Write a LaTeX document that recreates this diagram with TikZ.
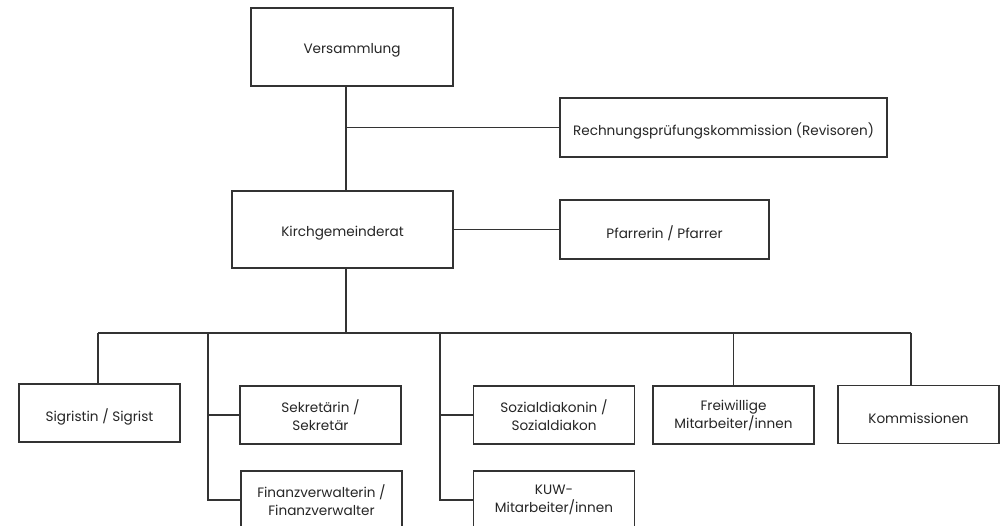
\documentclass[tikz,border=0pt]{standalone}
\usepackage{fontspec}
\setmainfont{Poppins}
\newcommand{\dn}[1]{\raisebox{-3.5pt}[\height][\depth]{#1}}
\begin{document}
\begin{tikzpicture}[x=1pt,y=-1pt,
  box/.style={draw=black!80, line width=1.2pt, rectangle, inner sep=0pt, align=center,
    font=\fontsize{13.6}{18}\selectfont, text=black!85},
  small/.style={box, minimum width=161pt, minimum height=58pt},
  conn/.style={draw=black!80, line width=1.2pt}]
\path[use as bounding box, clip] (0,0) rectangle (1005,526);
\fill[white] (0,0) rectangle (1005,526);
% top level
\node[box, minimum width=202pt, minimum height=78pt] (vers) at (352,47) {\dn{Versammlung}};
\node[box, minimum width=221pt, minimum height=77pt] (kgr) at (342.5,229.5) {\dn{Kirchgemeinderat}};
\node[box, minimum width=327pt, minimum height=59pt] (rpk) at (723.5,127.5) {\dn{Rechnungsprüfungskommission (Revisoren)}};
\node[box, minimum width=209pt, minimum height=59pt] (pfr) at (664.5,229.5) {\dn{Pfarrerin / Pfarrer}};
% bottom level
\node[small] (sig) at (99.5,413) {\dn{Sigristin / Sigrist}};
\node[small] (sek) at (320.5,415) {Sekretärin /\\Sekretär};
\node[small] (fin) at (321.5,500) {Finanzverwalterin /\\Finanzverwalter};
\node[small] (soz) at (554,415) {Sozialdiakonin /\\Sozialdiakon};
\node[small] (kuw) at (554,500) {KUW-\\Mitarbeiter/innen};
\node[small] (frw) at (733.5,415) {Freiwillige\\Mitarbeiter/innen};
\node[small] (kom) at (918.5,414.5) {\dn{Kommissionen}};
% helper coordinates
\coordinate (vx) at (346,0);
\coordinate (bus) at (0,333);
\coordinate (b1) at (98,0);
\coordinate (b2) at (208,0);
\coordinate (b3) at (440,0);
\coordinate (b4) at (733.5,0);
\coordinate (b5) at (911,0);
% connectors
\draw[conn] (vers.south -| vx) -- (kgr.north -| vx);
\draw[conn] (rpk.west) -- (rpk.west -| vx);
\draw[conn] (kgr.east) -- (pfr.west);
\draw[conn] (kgr.south -| vx) -- (bus -| vx);
\draw[conn] (bus -| b1) -- (bus -| b5);
\draw[conn] (bus -| b1) -- (sig.north -| b1);
\draw[conn] (bus -| b2) -- (fin.west -| b2) -- (fin.west);
\draw[conn] (sek.west -| b2) -- (sek.west);
\draw[conn] (bus -| b3) -- (kuw.west -| b3) -- (kuw.west);
\draw[conn] (soz.west -| b3) -- (soz.west);
\draw[conn] (bus -| b4) -- (frw.north);
\draw[conn] (bus -| b5) -- (kom.north -| b5);
\end{tikzpicture}
\end{document}
